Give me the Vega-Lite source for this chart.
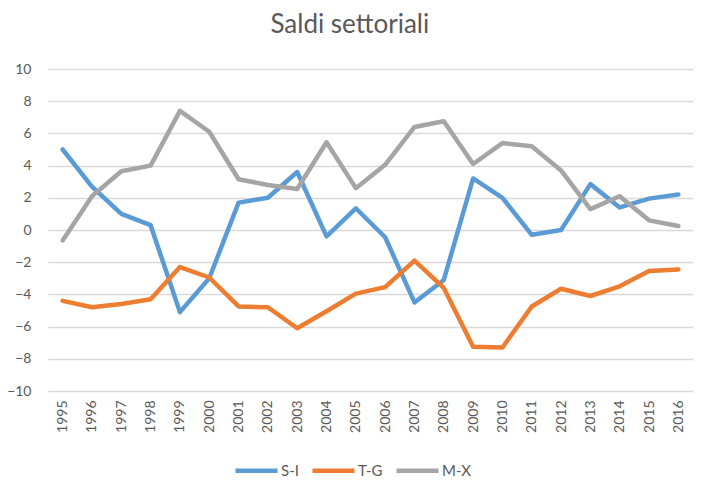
{
  "$schema": "https://vega.github.io/schema/vega-lite/v6.json",
  "width": 645,
  "height": 322,
  "autosize": {"type": "none"},
  "padding": {"left": 48, "top": 69, "right": 11, "bottom": 103},
  "background": "white",
  "config": {
    "font": "Lato",
    "view": {"stroke": null},
    "title": {"font": "Lato", "fontSize": 26, "fontWeight": "normal", "color": "#595959"}
  },
  "title": {"text": "Saldi settoriali", "anchor": "middle", "frame": "bounds", "offset": 24},
  "data": {
    "values": [
      {"year": "1995", "s": "S-I", "v": 5.0}, {"year": "1996", "s": "S-I", "v": 2.7}, {"year": "1997", "s": "S-I", "v": 1.0}, {"year": "1998", "s": "S-I", "v": 0.3}, {"year": "1999", "s": "S-I", "v": -5.1}, {"year": "2000", "s": "S-I", "v": -3.0}, {"year": "2001", "s": "S-I", "v": 1.7}, {"year": "2002", "s": "S-I", "v": 2.0}, {"year": "2003", "s": "S-I", "v": 3.6}, {"year": "2004", "s": "S-I", "v": -0.4}, {"year": "2005", "s": "S-I", "v": 1.35}, {"year": "2006", "s": "S-I", "v": -0.45}, {"year": "2007", "s": "S-I", "v": -4.5}, {"year": "2008", "s": "S-I", "v": -3.1}, {"year": "2009", "s": "S-I", "v": 3.2}, {"year": "2010", "s": "S-I", "v": 2.0}, {"year": "2011", "s": "S-I", "v": -0.3}, {"year": "2012", "s": "S-I", "v": 0.0}, {"year": "2013", "s": "S-I", "v": 2.85}, {"year": "2014", "s": "S-I", "v": 1.4}, {"year": "2015", "s": "S-I", "v": 1.95}, {"year": "2016", "s": "S-I", "v": 2.2},
      {"year": "1995", "s": "T-G", "v": -4.4}, {"year": "1996", "s": "T-G", "v": -4.8}, {"year": "1997", "s": "T-G", "v": -4.6}, {"year": "1998", "s": "T-G", "v": -4.3}, {"year": "1999", "s": "T-G", "v": -2.3}, {"year": "2000", "s": "T-G", "v": -2.95}, {"year": "2001", "s": "T-G", "v": -4.75}, {"year": "2002", "s": "T-G", "v": -4.8}, {"year": "2003", "s": "T-G", "v": -6.1}, {"year": "2004", "s": "T-G", "v": -5.05}, {"year": "2005", "s": "T-G", "v": -3.95}, {"year": "2006", "s": "T-G", "v": -3.55}, {"year": "2007", "s": "T-G", "v": -1.9}, {"year": "2008", "s": "T-G", "v": -3.6}, {"year": "2009", "s": "T-G", "v": -7.25}, {"year": "2010", "s": "T-G", "v": -7.3}, {"year": "2011", "s": "T-G", "v": -4.75}, {"year": "2012", "s": "T-G", "v": -3.65}, {"year": "2013", "s": "T-G", "v": -4.1}, {"year": "2014", "s": "T-G", "v": -3.5}, {"year": "2015", "s": "T-G", "v": -2.55}, {"year": "2016", "s": "T-G", "v": -2.45},
      {"year": "1995", "s": "M-X", "v": -0.65}, {"year": "1996", "s": "M-X", "v": 2.1}, {"year": "1997", "s": "M-X", "v": 3.65}, {"year": "1998", "s": "M-X", "v": 4.0}, {"year": "1999", "s": "M-X", "v": 7.4}, {"year": "2000", "s": "M-X", "v": 6.1}, {"year": "2001", "s": "M-X", "v": 3.15}, {"year": "2002", "s": "M-X", "v": 2.8}, {"year": "2003", "s": "M-X", "v": 2.55}, {"year": "2004", "s": "M-X", "v": 5.45}, {"year": "2005", "s": "M-X", "v": 2.6}, {"year": "2006", "s": "M-X", "v": 4.05}, {"year": "2007", "s": "M-X", "v": 6.4}, {"year": "2008", "s": "M-X", "v": 6.75}, {"year": "2009", "s": "M-X", "v": 4.1}, {"year": "2010", "s": "M-X", "v": 5.4}, {"year": "2011", "s": "M-X", "v": 5.2}, {"year": "2012", "s": "M-X", "v": 3.7}, {"year": "2013", "s": "M-X", "v": 1.3}, {"year": "2014", "s": "M-X", "v": 2.1}, {"year": "2015", "s": "M-X", "v": 0.6}, {"year": "2016", "s": "M-X", "v": 0.25}
    ]
  },
  "mark": {"type": "line", "strokeWidth": 4.5, "strokeCap": "round", "strokeJoin": "round"},
  "encoding": {
    "x": {
      "field": "year", "type": "ordinal", "title": null,
      "scale": {"type": "point", "padding": 0.5},
      "axis": {"domain": false, "ticks": false, "grid": false, "labelAngle": -90, "labelAlign": "right", "labelBaseline": "middle", "labelFontSize": 14, "labelColor": "#595959", "labelPadding": 9}
    },
    "y": {
      "field": "v", "type": "quantitative", "title": null,
      "scale": {"domain": [-10, 10], "nice": false},
      "axis": {"values": [-10, -8, -6, -4, -2, 0, 2, 4, 6, 8, 10], "domain": false, "ticks": false, "gridColor": "#d9d9d9", "gridWidth": 1.3, "labelFontSize": 14, "labelColor": "#595959", "labelPadding": 17}
    },
    "color": {
      "field": "s", "type": "nominal", "sort": ["S-I", "T-G", "M-X"],
      "scale": {"domain": ["S-I", "T-G", "M-X"], "range": ["#5B9BD5", "#ED7D31", "#A5A5A5"]},
      "legend": {"orient": "none", "legendX": 185, "legendY": 378, "direction": "horizontal", "title": null, "symbolType": "stroke", "symbolStrokeWidth": 4.5, "symbolSize": 1764, "labelFontSize": 15, "labelColor": "#595959", "columnPadding": 4, "labelOffset": 1}
    }
  }
}
